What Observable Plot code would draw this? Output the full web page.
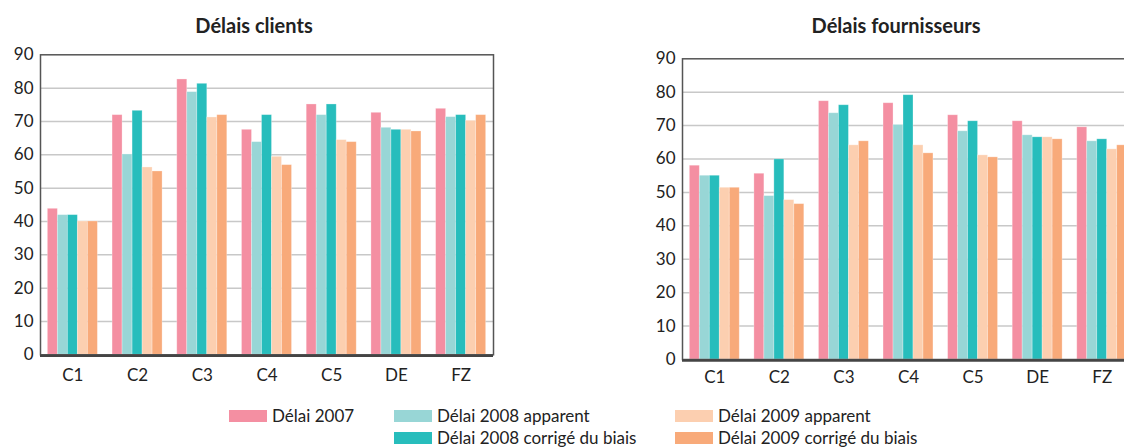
<!DOCTYPE html>
<html>
<head>
<meta charset="utf-8">
<script src="https://cdn.jsdelivr.net/npm/d3@7"></script>
<script src="https://cdn.jsdelivr.net/npm/@observablehq/plot@0.6"></script>
<style>
  html, body { margin: 0; padding: 0; background: #fff; }
  #root { position: relative; width: 1124px; height: 448px; overflow: hidden; font-family: Lato, "Open Sans", sans-serif; color: #222; }
  .title { position: absolute; top: 13px; font-weight: bold; font-size: 20px; line-height: 24px; transform: translateX(-50%); white-space: nowrap; }
  .chart { position: absolute; top: 0; }
  .legend { position: absolute; font-size: 17px; line-height: 16px; display: flex; align-items: center; white-space: nowrap; }
  .legend .sw { width: 38px; height: 12px; margin-right: 5px; }
</style>
</head>
<body>
<div id="root"></div>
<script>
const categories = ["C1", "C2", "C3", "C4", "C5", "DE", "FZ"];
const seriesNames = ["Délai 2007", "Délai 2008 apparent", "Délai 2008 corrigé du biais", "Délai 2009 apparent", "Délai 2009 corrigé du biais"];
const seriesColors = ["#f48fa2", "#98d6d6", "#27bdbc", "#fccfb0", "#f8aa7a"];
const yTicks = [0, 10, 20, 30, 40, 50, 60, 70, 80, 90];

// Délais clients
const clients2007 = [43.8, 71.9, 82.6, 67.5, 75.1, 72.6, 73.8];
const clients2008app = [41.9, 60.1, 78.8, 63.8, 71.9, 68.1, 71.3];
const clients2008corr = [41.9, 73.2, 81.3, 71.9, 75.1, 67.5, 71.9];
const clients2009app = [40.0, 56.2, 71.2, 59.4, 64.4, 67.5, 70.2];
const clients2009corr = [40.0, 55.0, 71.9, 56.9, 63.8, 67.0, 71.9];

// Délais fournisseurs
const fourn2007 = [58.0, 55.6, 77.3, 76.7, 73.1, 71.3, 69.5];
const fourn2008app = [55.0, 48.9, 73.7, 70.2, 68.3, 67.1, 65.3];
const fourn2008corr = [55.0, 59.9, 76.1, 79.1, 71.3, 66.5, 65.9];
const fourn2009app = [51.4, 47.7, 64.1, 64.1, 61.1, 66.5, 62.9];
const fourn2009corr = [51.4, 46.5, 65.3, 61.7, 60.5, 65.9, 64.1];

const groupWidth = 0.773;

function toRows(seriesArrays) {
  const rows = [];
  const w = groupWidth / seriesArrays.length;
  seriesArrays.forEach((arr, s) => {
    arr.forEach((v, i) => {
      const x1 = i - groupWidth / 2 + s * w;
      rows.push({cat: categories[i], series: seriesNames[s], x1, x2: x1 + w, value: v});
    });
  });
  return rows;
}

function makeChart(rows, opts) {
  return Plot.plot({
    width: 500,
    height: 390,
    marginLeft: opts.marginLeft,
    marginRight: opts.marginRight,
    marginTop: opts.marginTop,
    marginBottom: opts.marginBottom,
    style: {fontFamily: "Lato, 'Open Sans', sans-serif", fontSize: "17px", color: "#222", background: "transparent"},
    x: {domain: [-0.5, 6.5], ticks: d3.range(categories.length), tickFormat: i => categories[i], tickSize: 0, tickPadding: opts.xPad, label: null},
    y: {domain: [0, 90], ticks: yTicks, tickSize: 0, tickPadding: 7, label: null},
    color: {domain: seriesNames, range: seriesColors},
    marks: [
      Plot.gridY(yTicks.filter(t => t > 0 && t < 90), {stroke: "#c8c8c8", strokeOpacity: 1, strokeWidth: 1.5}),
      Plot.rectY(rows, {x1: "x1", x2: "x2", y1: 0, y2: "value", fill: "series", inset: 0, stroke: "#fff", strokeOpacity: 0.35, strokeWidth: 0.8}),
      Plot.frame({stroke: "#555", strokeWidth: 1.5}),
      Plot.ruleY([0], {stroke: "#444", strokeWidth: 2.5, dy: 1})
    ]
  });
}

const root = document.getElementById("root");

const left = makeChart(toRows([clients2007, clients2008app, clients2008corr, clients2009app, clients2009corr]),
  {marginLeft: 40, marginRight: 7, marginTop: 54.3, marginBottom: 35.7, xPad: 14});
left.classList.add("chart");
left.style.left = "0px";
root.appendChild(left);

const right = makeChart(toRows([fourn2007, fourn2008app, fourn2008corr, fourn2009app, fourn2009corr]),
  {marginLeft: 42, marginRight: 6, marginTop: 58.3, marginBottom: 31, xPad: 11});
right.classList.add("chart");
right.style.left = "640px";
root.appendChild(right);

function addTitle(text, cx) {
  const d = document.createElement("div");
  d.className = "title";
  d.textContent = text;
  d.style.left = cx + "px";
  root.appendChild(d);
}
addTitle("Délais clients", 254);
addTitle("Délais fournisseurs", 896);

const legendPos = [
  {x: 229, y: 408}, {x: 394, y: 408}, {x: 394, y: 430}, {x: 675, y: 408}, {x: 675, y: 430}
];
seriesNames.forEach((name, i) => {
  const d = document.createElement("div");
  d.className = "legend";
  d.style.left = legendPos[i].x + "px";
  d.style.top = legendPos[i].y + "px";
  const sw = document.createElement("div");
  sw.className = "sw";
  sw.style.background = seriesColors[i];
  const t = document.createElement("span");
  t.textContent = name;
  d.appendChild(sw);
  d.appendChild(t);
  root.appendChild(d);
});
</script>
</body>
</html>
